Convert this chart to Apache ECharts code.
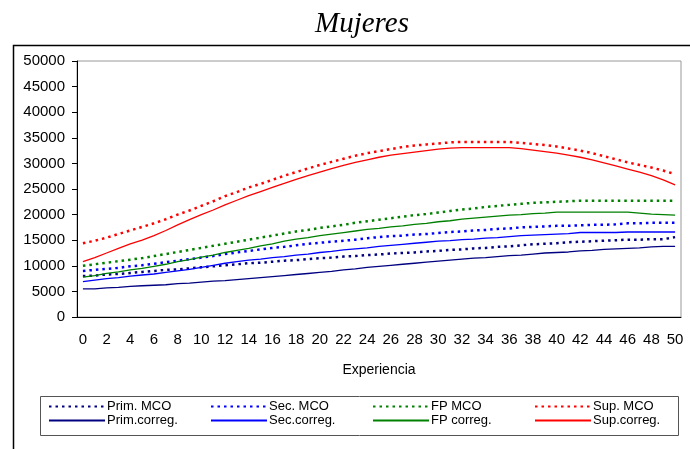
<!DOCTYPE html>
<html><head><meta charset="utf-8">
<script src="https://cdn.jsdelivr.net/npm/echarts@6/dist/echarts.min.js"></script>
<style>html,body{margin:0;padding:0;background:#fff}#c{width:690px;height:449px}</style>
</head><body><div id="c"></div>
<script>
const categories = Array.from({length: 51}, (_, i) => String(i));
const primMCO = [8000,8100,8300,8400,8600,8800,9000,9200,9300,9500,9700,9900,10100,10300,10500,10600,10800,11000,11100,11300,11500,11600,11800,11900,12100,12200,12400,12500,12600,12800,12900,13100,13200,13400,13500,13700,13800,14000,14200,14300,14400,14600,14700,14800,14900,15000,15100,15100,15200,15200,15600];
const primCorr = [5500,5500,5700,5800,6000,6100,6200,6300,6500,6600,6800,7000,7100,7300,7500,7700,7900,8100,8300,8500,8700,8900,9200,9400,9700,9900,10100,10300,10500,10700,10900,11100,11300,11500,11600,11800,12000,12100,12300,12500,12600,12700,12900,13000,13200,13300,13400,13500,13700,13800,13800];
const secMCO = [9000,9200,9400,9600,9900,10100,10400,10700,11000,11300,11600,11900,12300,12600,12900,13200,13500,13700,14000,14300,14500,14700,14900,15100,15400,15600,15800,15900,16100,16200,16400,16600,16700,16900,17000,17200,17300,17500,17600,17700,17800,17800,17900,18000,18000,18100,18300,18300,18400,18400,18400];
const secCorr = [6900,7200,7500,7700,8000,8200,8400,8700,9000,9300,9700,10100,10500,10800,11100,11300,11600,11800,12100,12300,12600,12800,13100,13300,13500,13800,14000,14200,14400,14600,14800,14900,15100,15200,15400,15500,15700,15900,16000,16100,16200,16300,16500,16500,16500,16500,16600,16600,16600,16600,16600];
const fpMCO = [10000,10300,10600,10900,11200,11500,11900,12300,12700,13100,13500,13900,14300,14700,15100,15500,15900,16300,16700,17000,17400,17700,18000,18400,18700,19000,19300,19600,19900,20100,20400,20700,21000,21200,21500,21700,21900,22100,22300,22400,22500,22600,22700,22700,22700,22700,22700,22700,22700,22700,22700];
const fpCorr = [7800,8100,8500,8800,9200,9500,9900,10300,10800,11200,11700,12100,12600,13000,13400,13900,14300,14800,15200,15500,15900,16200,16500,16800,17100,17300,17600,17800,18100,18300,18600,18800,19100,19300,19500,19700,19900,20000,20200,20300,20500,20500,20500,20500,20500,20500,20500,20300,20100,20000,19900];
const supMCO = [14400,14900,15500,16200,16900,17600,18300,19100,20000,20800,21700,22600,23600,24400,25300,26000,26800,27600,28300,29000,29700,30300,30900,31500,32000,32400,32800,33200,33500,33700,33900,34100,34200,34200,34200,34200,34200,34000,33800,33600,33300,32900,32500,32000,31400,30800,30200,29700,29200,28600,27900];
const supCorr = [10800,11600,12500,13400,14300,15000,15900,16900,18000,19000,20000,20900,21900,22800,23700,24500,25300,26100,26900,27600,28300,29000,29600,30200,30700,31200,31600,31900,32200,32500,32800,33000,33100,33100,33100,33100,33100,32900,32600,32300,32000,31600,31200,30700,30100,29500,28900,28300,27600,26800,25800];
const yTicks = [0,5000,10000,15000,20000,25000,30000,35000,40000,45000,50000];

const seriesDefs = [
  {name:'Prim. MCO', data:primMCO, color:'#000080', type:'dotted'},
  {name:'Sec. MCO', data:secMCO, color:'#0000ff', type:'dotted'},
  {name:'FP MCO', data:fpMCO, color:'#008000', type:'dotted'},
  {name:'Sup. MCO', data:supMCO, color:'#ff0000', type:'dotted'},
  {name:'Prim.correg.', data:primCorr, color:'#000080', type:'solid'},
  {name:'Sec.correg.', data:secCorr, color:'#0000ff', type:'solid'},
  {name:'FP correg.', data:fpCorr, color:'#008000', type:'solid'},
  {name:'Sup.correg.', data:supCorr, color:'#ff0000', type:'solid'}
];

const series = seriesDefs.map(s => ({
  name: s.name, type: 'line', data: s.data, symbol: 'none', animation: false,
  lineStyle: s.type === 'dotted'
    ? {color: s.color, width: 2.5, type: [2.5, 4]}
    : {color: s.color, width: 1.3, type: 'solid'},
  itemStyle: {color: s.color}
}));

const colLeft = [48, 210, 372, 534];
const legends = seriesDefs.map((s, i) => ({
  show: true,
  data: [s.name],
  left: colLeft[i % 4], top: i < 4 ? 400 : 414,
  itemWidth: 56, itemHeight: 12, itemGap: 2,
  selectedMode: false,
  itemStyle: {opacity: 0},
  textStyle: {fontFamily: 'Liberation Sans Narrow, Liberation Sans, Arial', fontSize: 13, color: '#000', padding: [0,0,0,-3]},
  padding: 0
}));

const chart = echarts.init(document.getElementById('c'), null, {renderer: 'canvas'});
chart.setOption({
  animation: false,
  backgroundColor: '#fff',
  title: {text: 'Mujeres', left: 310, top: 5,
    textStyle: {fontFamily: 'Liberation Serif', fontStyle: 'italic', fontWeight: 'normal', fontSize: 29, color: '#000'}},
  grid: {left: 77, top: 61, right: 9, bottom: 132, show: true, borderColor: '#999', borderWidth: 1},
  legend: legends,
  xAxis: {
    type: 'category', data: categories, boundaryGap: true,
    name: 'Experiencia', nameLocation: 'middle', nameGap: 46,
    nameTextStyle: {fontFamily: 'Liberation Sans', fontSize: 14, color: '#000'},
    axisLine: {lineStyle: {color: '#000', width: 1}},
    axisTick: {interval: 0, length: 5, lineStyle: {color: '#000'}},
    axisLabel: {interval: 1, margin: 15, fontFamily: 'Liberation Sans', fontSize: 15, color: '#000'},
    splitLine: {show: false}
  },
  yAxis: {
    type: 'value', min: yTicks[0], max: yTicks[yTicks.length-1], interval: 5000,
    axisLine: {show: true, lineStyle: {color: '#000', width: 1}},
    axisTick: {show: true, length: 5, lineStyle: {color: '#000'}},
    axisLabel: {margin: 12, fontFamily: 'Liberation Sans', fontSize: 15, color: '#000', formatter: v => String(v)},
    splitLine: {show: false}
  },
  graphic: [
    {type: 'polyline', shape: {points: [[13.5, 449], [13.5, 45.5], [690, 45.5]]}, style: {stroke: '#000', lineWidth: 1.5, fill: null}, silent: true},
    {type: 'rect', shape: {x: 40.5, y: 396.5, width: 638, height: 39}, style: {stroke: '#555', lineWidth: 1, fill: null}, silent: true, z: -1}
  ],
  series: series
});
</script>
</body></html>
